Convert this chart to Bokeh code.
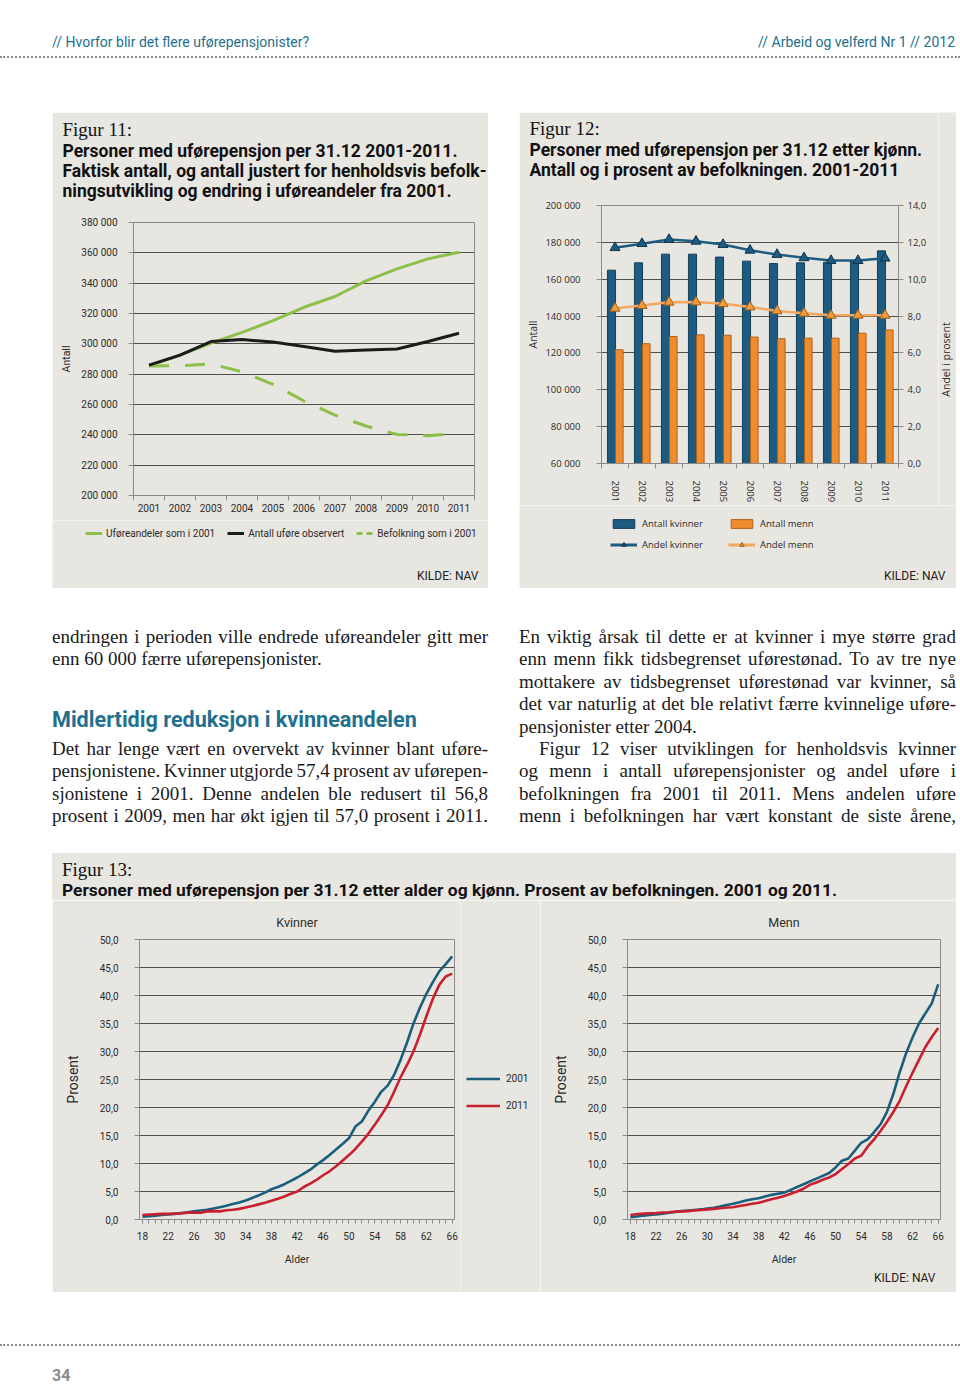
import math
from bokeh.plotting import figure
from bokeh.models import (ColumnDataSource, FixedTicker, LinearAxis, Range1d, Legend,
                          LegendItem, Title, Div, Spacer, Label)
from bokeh.layouts import column, row
from bokeh.transform import dodge
from bokeh.embed import file_html
from bokeh.resources import INLINE

# ---------------- data ----------------
years = [2001, 2002, 2003, 2004, 2005, 2006, 2007, 2008, 2009, 2010, 2011]

fig11_uforeandel_2001 = [285500, 292500, 300500, 307600, 315300, 324100, 331200, 341500, 349400, 356000, 360400]
fig11_observert = [286000, 292600, 301500, 302800, 301200, 298200, 295100, 296000, 296600, 301500, 307000]
fig11_befolkning_2001 = [285400, 285600, 286700, 281600, 273300, 262300, 253000, 245800, 240300, 239400, 241000]
fig11_yticks = [200000, 220000, 240000, 260000, 280000, 300000, 320000, 340000, 360000, 380000]

fig12_antall_kvinner = [164900, 168900, 173600, 173600, 172000, 169800, 168500, 168900, 169200, 169800, 175400]
fig12_antall_menn = [121700, 125000, 128900, 129800, 129600, 128600, 127700, 128000, 128000, 130700, 132500]
fig12_andel_kvinner = [11.71, 11.93, 12.15, 12.06, 11.88, 11.57, 11.34, 11.16, 11.01, 11.01, 11.14]
fig12_andel_menn = [8.42, 8.57, 8.75, 8.76, 8.67, 8.49, 8.28, 8.15, 8.04, 8.04, 8.04]
fig12_yticks = [60000, 80000, 100000, 120000, 140000, 160000, 180000, 200000]
fig12_pct_ticks = [0, 2, 4, 6, 8, 10, 12, 14]

ages = [18, 19, 20, 21, 22, 23, 24, 25, 26, 27, 28, 29, 30, 31, 32, 33, 34, 35, 36, 37, 38, 39, 40, 41, 42,
        43, 44, 45, 46, 47, 48, 49, 50, 51, 52, 53, 54, 55, 56, 57, 58, 59, 60, 61, 62, 63, 64, 65, 66]
age_ticks = [18, 22, 26, 30, 34, 38, 42, 46, 50, 54, 58, 62, 66]
fig13_yticks = [0, 5, 10, 15, 20, 25, 30, 35, 40, 45, 50]
kvinner_2001 = [0.5, 0.6, 0.7, 0.8, 0.9, 1.0, 1.15, 1.3, 1.45, 1.6, 1.75, 1.95, 2.2, 2.45, 2.75, 3.05, 3.4,
                3.85, 4.3, 4.8, 5.4, 5.8, 6.3, 6.9, 7.5, 8.2, 8.9, 9.8, 10.6, 11.5, 12.5, 13.5, 14.5, 16.6,
                17.5, 19.4, 21.0, 22.8, 23.9, 25.8, 28.5, 31.6, 35.0, 37.8, 40.3, 42.4, 44.3, 45.6, 47.0]
kvinner_2011 = [0.8, 0.9, 0.95, 1.0, 1.0, 1.05, 1.1, 1.2, 1.25, 1.2, 1.45, 1.5, 1.45, 1.65, 1.75, 1.9, 2.15,
                2.4, 2.7, 3.0, 3.35, 3.7, 4.1, 4.6, 5.0, 5.8, 6.4, 7.1, 7.9, 8.6, 9.5, 10.5, 11.5, 12.6,
                13.9, 15.3, 16.9, 18.6, 20.4, 22.8, 25.4, 27.6, 30.0, 33.0, 36.3, 39.4, 41.9, 43.4, 43.9]
menn_2001 = [0.4, 0.55, 0.7, 0.8, 0.9, 1.05, 1.2, 1.35, 1.5, 1.6, 1.7, 1.8, 1.95, 2.1, 2.3, 2.6, 2.8,
             3.1, 3.4, 3.6, 3.8, 4.1, 4.4, 4.6, 4.8, 5.3, 5.8, 6.3, 6.8, 7.3, 7.8, 8.3, 9.3, 10.5,
             10.9, 12.3, 13.7, 14.3, 15.6, 17.0, 19.2, 22.4, 26.3, 29.7, 32.5, 35.0, 36.8, 38.6, 42.0]
menn_2011 = [0.8, 0.95, 1.05, 1.1, 1.15, 1.25, 1.3, 1.4, 1.45, 1.5, 1.6, 1.7, 1.8, 1.9, 2.0, 2.15, 2.2,
             2.4, 2.6, 2.8, 3.0, 3.3, 3.6, 3.9, 4.2, 4.6, 5.0, 5.5, 6.2, 6.6, 7.1, 7.5, 8.1, 9.0,
             9.9, 10.9, 11.4, 13.0, 14.3, 15.8, 17.4, 19.2, 21.2, 23.8, 26.2, 28.5, 30.8, 32.6, 34.2]

# ---------------- style ----------------
GREY = "#e8e6e1"
AXIS = "#8a8a8a"
GRID = "#4f4f4f"
TXT = "#2b2b2b"
GREEN = "#8dc04b"
BLACK = "#1b1b1b"
BLUE12 = "#1d5b80"
ORANGE12 = "#ef8c2e"
ORANGE12_LINE = "#f4a75f"
BLUE13 = "#1b5e7b"
RED13 = "#c9202f"
TEAL = "#23708e"
NAN = [float("nan")]   # legend proxies: nothing is drawn from them


def thousands(v):
    return f"{v:,}".replace(",", " ")


def comma1(v):
    return f"{v:.1f}".replace(".", ",")


def no_align(p):
    if "frame_align" in p.properties():
        p.frame_align = False


def base_fig(width, height, x_range, y_range, top, right, bottom, left):
    p = figure(width=width, height=height, x_range=x_range, y_range=y_range,
               output_backend="svg", toolbar_location=None, title=None,
               min_border_top=top, min_border_right=right,
               min_border_bottom=bottom, min_border_left=left)
    p.background_fill_color = GREY
    p.border_fill_color = GREY
    p.outline_line_color = AXIS
    p.xgrid.grid_line_color = None
    p.ygrid.grid_line_color = GRID
    p.ygrid.grid_line_width = 1
    no_align(p)
    return p


def legend_fig(width, height):
    p = figure(width=width, height=height, x_range=Range1d(0, 1), y_range=Range1d(0, 1),
               output_backend="svg", toolbar_location=None, title=None,
               min_border=0, x_axis_location=None, y_axis_location=None)
    p.background_fill_color = GREY
    p.border_fill_color = GREY
    p.outline_line_color = None
    p.grid.grid_line_color = None
    no_align(p)
    return p


def style_axis(ax, font, size):
    ax.axis_line_color = AXIS
    ax.major_tick_line_color = AXIS
    ax.minor_tick_line_color = AXIS
    ax.major_label_text_font = font
    ax.major_label_text_font_size = size
    ax.major_label_text_color = TXT
    ax.axis_label_text_font = font
    ax.axis_label_text_font_style = "normal"
    ax.axis_label_text_color = TXT


def add_titles(p, fig_label, lines, offset, gap):
    p.add_layout(Title(text=" ", text_font_size=f"{gap}px", standoff=0), "above")
    for line in reversed(lines):
        p.add_layout(Title(text=line, align="left", offset=offset, text_font="Roboto",
                           text_font_size="17.5px", text_font_style="bold", text_color="#111111",
                           standoff=-2), "above")
    p.add_layout(Title(text=fig_label, align="left", offset=offset, text_font="Liberation Serif",
                       text_font_size="19px", text_font_style="normal", text_color="#111111",
                       standoff=0), "above")


def kilde_label(p, x, y, size="12px"):
    p.add_layout(Label(x=x, y=y, x_units="screen", y_units="screen", text="KILDE: NAV",
                       text_align="right", text_baseline="middle", text_font="Roboto",
                       text_font_size=size, text_color="#222222"))


year_bounds = [y - 0.5 for y in years] + [years[-1] + 0.5]

# ---------------- Figur 11 ----------------
p11 = base_fig(436, 408, Range1d(years[0] - 0.5, years[-1] + 0.5),
               Range1d(fig11_yticks[0], fig11_yticks[-1]), 110, 14, 25, 81)
add_titles(p11, "Figur 11:", ["Personer med uførepensjon per 31.12 2001-2011.",
                              "Faktisk antall, og antall justert for henholdsvis befolk-",
                              "ningsutvikling og endring i uføreandeler fra 2001."], -71, 19)
src11 = ColumnDataSource(dict(year=years, andel=fig11_uforeandel_2001,
                              obs=fig11_observert, bef=fig11_befolkning_2001))
p11.line("year", "andel", source=src11, line_color=GREEN, line_width=3)
p11.line("year", "bef", source=src11, line_color=GREEN, line_width=3, line_dash="20 16")
p11.line("year", "obs", source=src11, line_color=BLACK, line_width=3)

p11.yaxis.ticker = FixedTicker(ticks=fig11_yticks)
p11.yaxis.major_label_overrides = {t: thousands(t) for t in fig11_yticks}
p11.yaxis.axis_label = "Antall"
p11.xaxis.ticker = FixedTicker(ticks=years, minor_ticks=year_bounds)
for ax in (p11.xaxis[0], p11.yaxis[0]):
    style_axis(ax, "Roboto", "10px")
p11.yaxis.major_tick_out = 5
p11.yaxis.major_tick_in = 0
p11.yaxis.minor_tick_line_color = None
p11.yaxis.major_label_standoff = 11
p11.yaxis.axis_label_standoff = 5
p11.yaxis.axis_label_text_font_size = "10.5px"
p11.xaxis.major_tick_out = 0
p11.xaxis.major_tick_in = 0
p11.xaxis.minor_tick_out = 5
p11.xaxis.minor_tick_in = 0
p11.xaxis.major_label_standoff = 3

# legend strip of Figur 11
l11 = legend_fig(436, 68)
g1 = l11.line(x=NAN, y=NAN, line_color=GREEN, line_width=3)
g2 = l11.line(x=NAN, y=NAN, line_color=BLACK, line_width=3)
g3 = l11.line(x=NAN, y=NAN, line_color=GREEN, line_width=3, line_dash="6 4")
leg11 = Legend(items=[("Uføreandeler som i 2001", [g1]),
                      ("Antall uføre observert", [g2]),
                      ("Befolkning som i 2001", [g3])],
               orientation="horizontal", location=(33, 49), border_line_color=None,
               background_fill_alpha=0, label_text_font="Roboto", label_text_font_size="10px",
               label_text_color=TXT, glyph_width=17, glyph_height=12, label_height=12,
               label_standoff=4, spacing=12, padding=0, margin=0)
l11.add_layout(leg11, "center")
kilde_label(l11, 426, 13)

# ---------------- Figur 12 ----------------
p12 = base_fig(419, 393, Range1d(years[0] - 0.5, years[-1] + 0.5),
               Range1d(fig12_yticks[0], fig12_yticks[-1]), 93, 40, 41, 82)
add_titles(p12, "Figur 12:", ["Personer med uførepensjon per 31.12 etter kjønn.",
                              "Antall og i prosent av befolkningen.  2001-2011"], -72, 22)
p12.extra_y_ranges = {"pct": Range1d(fig12_pct_ticks[0], fig12_pct_ticks[-1])}
src12 = ColumnDataSource(dict(year=years, kv=fig12_antall_kvinner, mn=fig12_antall_menn,
                              akv=fig12_andel_kvinner, amn=fig12_andel_menn))
p12.vbar(x=dodge("year", -0.13), top="kv", bottom=fig12_yticks[0], width=0.3,
         source=src12, fill_color=BLUE12, line_color="#143f5a")
p12.vbar(x=dodge("year", 0.16), top="mn", bottom=fig12_yticks[0], width=0.28,
         source=src12, fill_color=ORANGE12, line_color="#b0621a")
p12.line("year", "akv", source=src12, y_range_name="pct", line_color=BLUE12, line_width=2.5)
p12.scatter("year", "akv", source=src12, y_range_name="pct", marker="triangle", size=10,
            fill_color=BLUE12, line_color="#0e3450")
p12.line("year", "amn", source=src12, y_range_name="pct", line_color=ORANGE12_LINE, line_width=2.5)
p12.scatter("year", "amn", source=src12, y_range_name="pct", marker="triangle", size=10,
            fill_color="#f29a3c", line_color="#96611f")

p12.yaxis.ticker = FixedTicker(ticks=fig12_yticks)
p12.yaxis.major_label_overrides = {t: thousands(t) for t in fig12_yticks}
p12.yaxis.axis_label = "Antall"
ax_r = LinearAxis(y_range_name="pct", ticker=FixedTicker(ticks=fig12_pct_ticks),
                  major_label_overrides={t: comma1(t) for t in fig12_pct_ticks})
p12.add_layout(ax_r, "right")
p12.xaxis.ticker = FixedTicker(ticks=years, minor_ticks=year_bounds)
p12.xaxis.major_label_orientation = "vertical"
for ax in (p12.xaxis[0], p12.yaxis[0], ax_r):
    style_axis(ax, "Open Sans", "9.5px")
for ax in (p12.yaxis[0], ax_r):
    ax.major_tick_out = 5
    ax.major_tick_in = 0
    ax.minor_tick_line_color = None
    ax.axis_label_text_font_size = "10.5px"
p12.yaxis.major_label_standoff = 16
p12.yaxis.axis_label_standoff = 2
ax_r.major_label_standoff = 4
p12.xaxis.major_tick_out = 0
p12.xaxis.major_tick_in = 0
p12.xaxis.minor_tick_out = 5
p12.xaxis.minor_tick_in = 0
p12.xaxis.major_label_standoff = 12

# strip at the right edge of Figur 12 holding the right axis title
r12 = legend_fig(18, 393)
r12.add_layout(Label(x=7, y=146, x_units="screen", y_units="screen", text="Andel i prosent",
                     angle=math.pi / 2, text_align="center", text_baseline="middle",
                     text_font="Open Sans", text_font_size="10.5px", text_color=TXT))

# legend strip of Figur 12
l12 = legend_fig(437, 83)
d1 = l12.vbar(x=NAN, top=NAN, width=0.1, fill_color=BLUE12, line_color="#143f5a")
d2 = l12.vbar(x=NAN, top=NAN, width=0.1, fill_color=ORANGE12, line_color="#b0621a")
d3 = l12.line(x=NAN, y=NAN, line_color=BLUE12, line_width=3)
d4 = l12.scatter(x=NAN, y=NAN, marker="triangle", fill_color=BLUE12, line_color="#0e3450")
d5 = l12.line(x=NAN, y=NAN, line_color=ORANGE12_LINE, line_width=3)
d6 = l12.scatter(x=NAN, y=NAN, marker="triangle", fill_color="#f29a3c", line_color="#96611f")
leg12 = Legend(items=[LegendItem(label="Antall kvinner", renderers=[d1]),
                      LegendItem(label="Antall menn", renderers=[d2]),
                      LegendItem(label="Andel kvinner", renderers=[d3, d4]),
                      LegendItem(label="Andel menn", renderers=[d5, d6])],
               orientation="horizontal", ncols=2, location=(91, 37), border_line_color=None,
               background_fill_alpha=0, label_text_font="Open Sans", label_text_font_size="9.5px",
               label_text_color=TXT, glyph_width=27, glyph_height=11, label_height=13,
               label_width=78, label_standoff=5, spacing=8, padding=0, margin=0)
l12.add_layout(leg12, "center")
kilde_label(l12, 426, 13)


# ---------------- Figur 13 ----------------
def age_fig(width, name, s2001, s2011, right):
    p = base_fig(width, 392, Range1d(17.55, 66.36), Range1d(fig13_yticks[0], fig13_yticks[-1]),
                 39, right, 73, 87)
    p.add_layout(Title(text=name, align="center", text_font="Roboto", text_font_size="12.5px",
                       text_font_style="normal", text_color=TXT, standoff=20), "above")
    src = ColumnDataSource(dict(age=ages, a=s2001, b=s2011))
    p.line("age", "a", source=src, line_color=BLUE13, line_width=2.6)
    p.line("age", "b", source=src, line_color=RED13, line_width=2.6)
    p.yaxis.ticker = FixedTicker(ticks=fig13_yticks)
    p.yaxis.major_label_overrides = {t: comma1(t) for t in fig13_yticks}
    p.yaxis.axis_label = "Prosent"
    p.xaxis.ticker = FixedTicker(ticks=age_ticks, minor_ticks=ages)
    p.xaxis.axis_label = "Alder"
    for ax in (p.xaxis[0], p.yaxis[0]):
        style_axis(ax, "Roboto", "10px")
    p.yaxis.major_tick_out = 5
    p.yaxis.major_tick_in = 0
    p.yaxis.minor_tick_line_color = None
    p.yaxis.major_label_standoff = 16
    p.yaxis.axis_label_standoff = 16
    p.yaxis.axis_label_text_font_size = "14px"
    p.xaxis.major_tick_out = 4
    p.xaxis.major_tick_in = 0
    p.xaxis.minor_tick_out = 4
    p.xaxis.minor_tick_in = 0
    p.xaxis.major_label_standoff = 8
    p.xaxis.axis_label_standoff = 10
    p.xaxis.axis_label_text_font_size = "10.5px"
    return p


p_kv = age_fig(408, "Kvinner", kvinner_2001, kvinner_2011, 6)
p_mn = age_fig(416, "Menn", menn_2001, menn_2011, 16)
p_mn.add_layout(Title(text="KILDE: NAV", align="right", offset=5, text_font="Roboto",
                      text_font_size="12px", text_font_style="normal", text_color="#222222",
                      standoff=0), "below")

# legend strip between the two age charts
l13 = legend_fig(80, 392)
k1 = l13.line(x=NAN, y=NAN, line_color=BLUE13, line_width=2.6)
k2 = l13.line(x=NAN, y=NAN, line_color=RED13, line_width=2.6)
leg13 = Legend(items=[("2001", [k1]), ("2011", [k2])], location=(6, 178),
               border_line_color=None, background_fill_alpha=0, label_text_font="Roboto",
               label_text_font_size="10px", label_text_color=TXT, glyph_width=34,
               glyph_height=17, label_height=17, label_standoff=6, spacing=10,
               padding=0, margin=0)
l13.add_layout(leg13, "center")

# ---------------- page text ----------------
BODY = ("font-family:'Liberation Serif',serif;font-size:19px;line-height:22.4px;"
        "word-spacing:-2px;color:#1a1a1a;")
J = "text-align:justify;text-align-last:justify;white-space:nowrap;"
L = "text-align:left;white-space:nowrap;word-spacing:0;"
HEAD = f"font-family:Roboto,sans-serif;font-size:14px;line-height:18px;color:{TEAL};white-space:nowrap;"

header = Div(width=960, height=112, margin=0, text=(
    '<div style="position:relative;width:960px;height:112px;">'
    f'<div style="position:absolute;left:52px;top:33px;{HEAD}">'
    '// Hvorfor blir det flere uførepensjonister?</div>'
    f'<div style="position:absolute;right:5px;top:33px;{HEAD}">'
    '// Arbeid og velferd Nr 1 // 2012</div>'
    '<div style="position:absolute;left:0;top:56px;width:960px;border-top:2px dotted #8c8c8c;"></div>'
    '</div>'))

left_text = Div(width=436, height=230, margin=0, text=(
    f'<div style="width:436px;padding-top:11px;{BODY}">'
    f'<div style="{J}">endringen i perioden ville endrede uføreandeler gitt mer</div>'
    f'<div style="{L}">enn 60 000 færre uførepensjonister.</div>'
    '<div style="margin-top:36px;margin-bottom:5px;height:26px;line-height:26px;font-family:Roboto,sans-serif;'
    f'font-weight:bold;font-size:21.6px;word-spacing:0;color:{TEAL};white-space:nowrap;">'
    'Midlertidig reduksjon i kvinneandelen</div>'
    f'<div style="{J}">Det har lenge vært en overvekt av kvinner blant uføre-</div>'
    f'<div style="{J}">pensjonistene. Kvinner utgjorde 57,4 prosent av uførepen-</div>'
    f'<div style="{J}">sjonistene i 2001. Denne andelen ble redusert til 56,8</div>'
    f'<div style="{J}">prosent i 2009, men har økt igjen til 57,0 prosent i 2011.</div>'
    '</div>'))

right_text = Div(width=437, height=230, margin=0, text=(
    f'<div style="width:437px;padding-top:11px;{BODY}">'
    f'<div style="{J}">En viktig årsak til dette er at kvinner i mye større grad</div>'
    f'<div style="{J}">enn menn fikk tidsbegrenset uførestønad. To av tre nye</div>'
    f'<div style="{J}">mottakere av tidsbegrenset uførestønad var kvinner, så</div>'
    f'<div style="{J}">det var naturlig at det ble relativt færre kvinnelige uføre-</div>'
    f'<div style="{L}">pensjonister etter 2004.</div>'
    f'<div style="{J}padding-left:20px;">Figur 12 viser utviklingen for henholdsvis kvinner</div>'
    f'<div style="{J}">og menn i antall uførepensjonister og andel uføre i</div>'
    f'<div style="{J}">befolkningen fra 2001 til 2011. Mens andelen uføre</div>'
    f'<div style="{J}">menn i befolkningen har vært konstant de siste årene,</div>'
    '</div>'))

fig13_title = Div(width=904, height=47, margin=0, styles={"background-color": GREY}, text=(
    '<div style="width:894px;padding:7px 0 0 10px;">'
    "<div style=\"font-family:'Liberation Serif',serif;font-size:19px;line-height:20px;color:#111;\">Figur 13:</div>"
    '<div style="font-family:Roboto,sans-serif;font-weight:bold;font-size:17.4px;line-height:20px;color:#111;white-space:nowrap;">'
    'Personer med uførepensjon per 31.12 etter alder og kjønn. Prosent av befolkningen. 2001 og 2011.</div>'
    '</div>'))

footer = Div(width=960, height=94, margin=0, text=(
    '<div style="position:relative;width:960px;height:94px;">'
    '<div style="position:absolute;left:0;top:52px;width:960px;border-top:2px dotted #8c8c8c;"></div>'
    '<div style="position:absolute;left:52px;top:76px;font-family:Roboto,sans-serif;font-weight:bold;'
    'font-size:16px;line-height:16px;color:#8a8a8a;">34</div>'
    '</div>'))

page = column(
    header,
    row(Spacer(width=52, height=476), column(p11, l11), Spacer(width=31, height=476),
        column(row(p12, r12), l12)),
    Spacer(width=956, height=27),
    row(Spacer(width=52, height=230), left_text, Spacer(width=31, height=230), right_text),
    Spacer(width=956, height=8),
    row(Spacer(width=52, height=439), column(fig13_title, row(p_kv, l13, p_mn))),
    footer,
)

open("out.html", "w").write(file_html(page, INLINE))
